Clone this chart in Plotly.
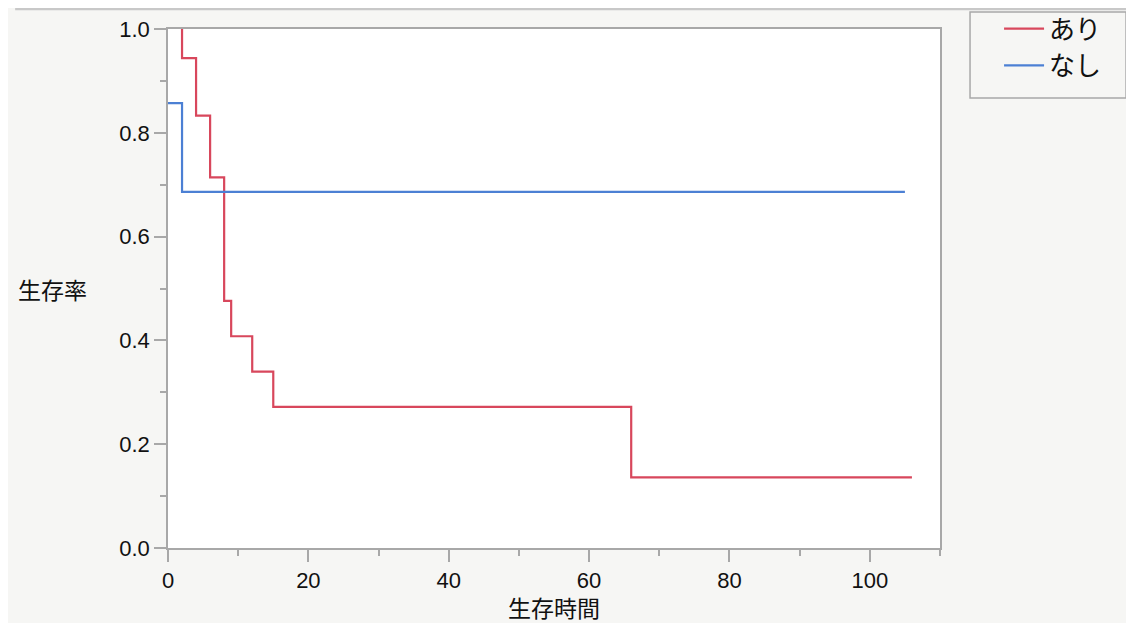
import plotly.graph_objects as go

# Data
red_name = "あり"
red_time = [2, 2, 4, 6, 8, 9, 12, 15, 66, 106]
red_surv = [1.0, 0.944, 0.833, 0.714, 0.476, 0.408, 0.340, 0.272, 0.136, 0.136]

blue_name = "なし"
blue_time = [0, 2, 105]
blue_surv = [0.857, 0.686, 0.686]

x_ticks = [0, 20, 40, 60, 80, 100]
y_ticks = [0.0, 0.2, 0.4, 0.6, 0.8, 1.0]
y_tick_text = ["0.0", "0.2", "0.4", "0.6", "0.8", "1.0"]

x_title = "生存時間"
y_title = "生存率"

FONT = "Liberation Sans, Arial, Noto Sans CJK JP"
JP = "Noto Sans CJK JP"
GRID = "#a8a8a8"
BG = "#f6f6f4"

fig = go.Figure()
fig.add_trace(go.Scatter(x=red_time, y=red_surv, mode="lines", name=red_name,
                         line=dict(color="#d8475c", width=2.2, shape="hv")))
fig.add_trace(go.Scatter(x=blue_time, y=blue_surv, mode="lines", name=blue_name,
                         line=dict(color="#4c80d4", width=2.2, shape="hv")))

axis_common = dict(showline=True, linecolor=GRID, linewidth=1.5, mirror=True,
                   showgrid=False, zeroline=False, ticks="outside",
                   tickcolor=GRID, tickwidth=1.5, automargin=False,
                   tickfont=dict(family=FONT, size=22, color="#111111"))

fig.update_xaxes(range=[0, 110], tickvals=x_ticks, ticklen=12,
                 minor=dict(dtick=10, tick0=0, ticks="outside", ticklen=6,
                            tickcolor=GRID, tickwidth=1.5),
                 **axis_common)
fig.update_yaxes(range=[0, 1.0], tickvals=y_ticks, ticktext=y_tick_text, ticklen=12,
                 minor=dict(dtick=0.1, tick0=0, ticks="outside", ticklen=6,
                            tickcolor=GRID, tickwidth=1.5),
                 **axis_common)

fig.add_annotation(text=x_title, xref="paper", yref="paper", x=0.5, y=-0.113,
                   showarrow=False, font=dict(family=JP, size=23, color="#111111"),
                   xanchor="center", yanchor="middle", borderpad=0)
fig.add_annotation(text=y_title, xref="paper", yref="paper", x=-0.149, y=0.5,
                   showarrow=False, font=dict(family=JP, size=23, color="#111111"),
                   xanchor="center", yanchor="middle")

# top panel line
fig.add_shape(type="line", xref="paper", yref="paper", x0=-0.198, x1=1.3,
              y0=1.0385, y1=1.0385, line=dict(color="#c8c8c8", width=2.5))
# legend frame
fig.add_shape(type="rect", xref="paper", yref="paper", x0=1.0389, x1=1.2410,
              y0=0.867, y1=1.0328, line=dict(color=GRID, width=1.5),
              fillcolor="rgba(0,0,0,0)")

fig.update_layout(
    width=1126, height=615,
    margin=dict(l=160, r=194, t=21, b=75, autoexpand=False),
    paper_bgcolor=BG, plot_bgcolor="white",
    showlegend=True,
    legend=dict(x=1.0765, y=1.046, xanchor="left", yanchor="top",
                bgcolor="rgba(0,0,0,0)", borderwidth=0,
                font=dict(family=JP, size=26, color="#111111"),
                itemwidth=40, tracegroupgap=0),
)

fig.write_html("out.html")
